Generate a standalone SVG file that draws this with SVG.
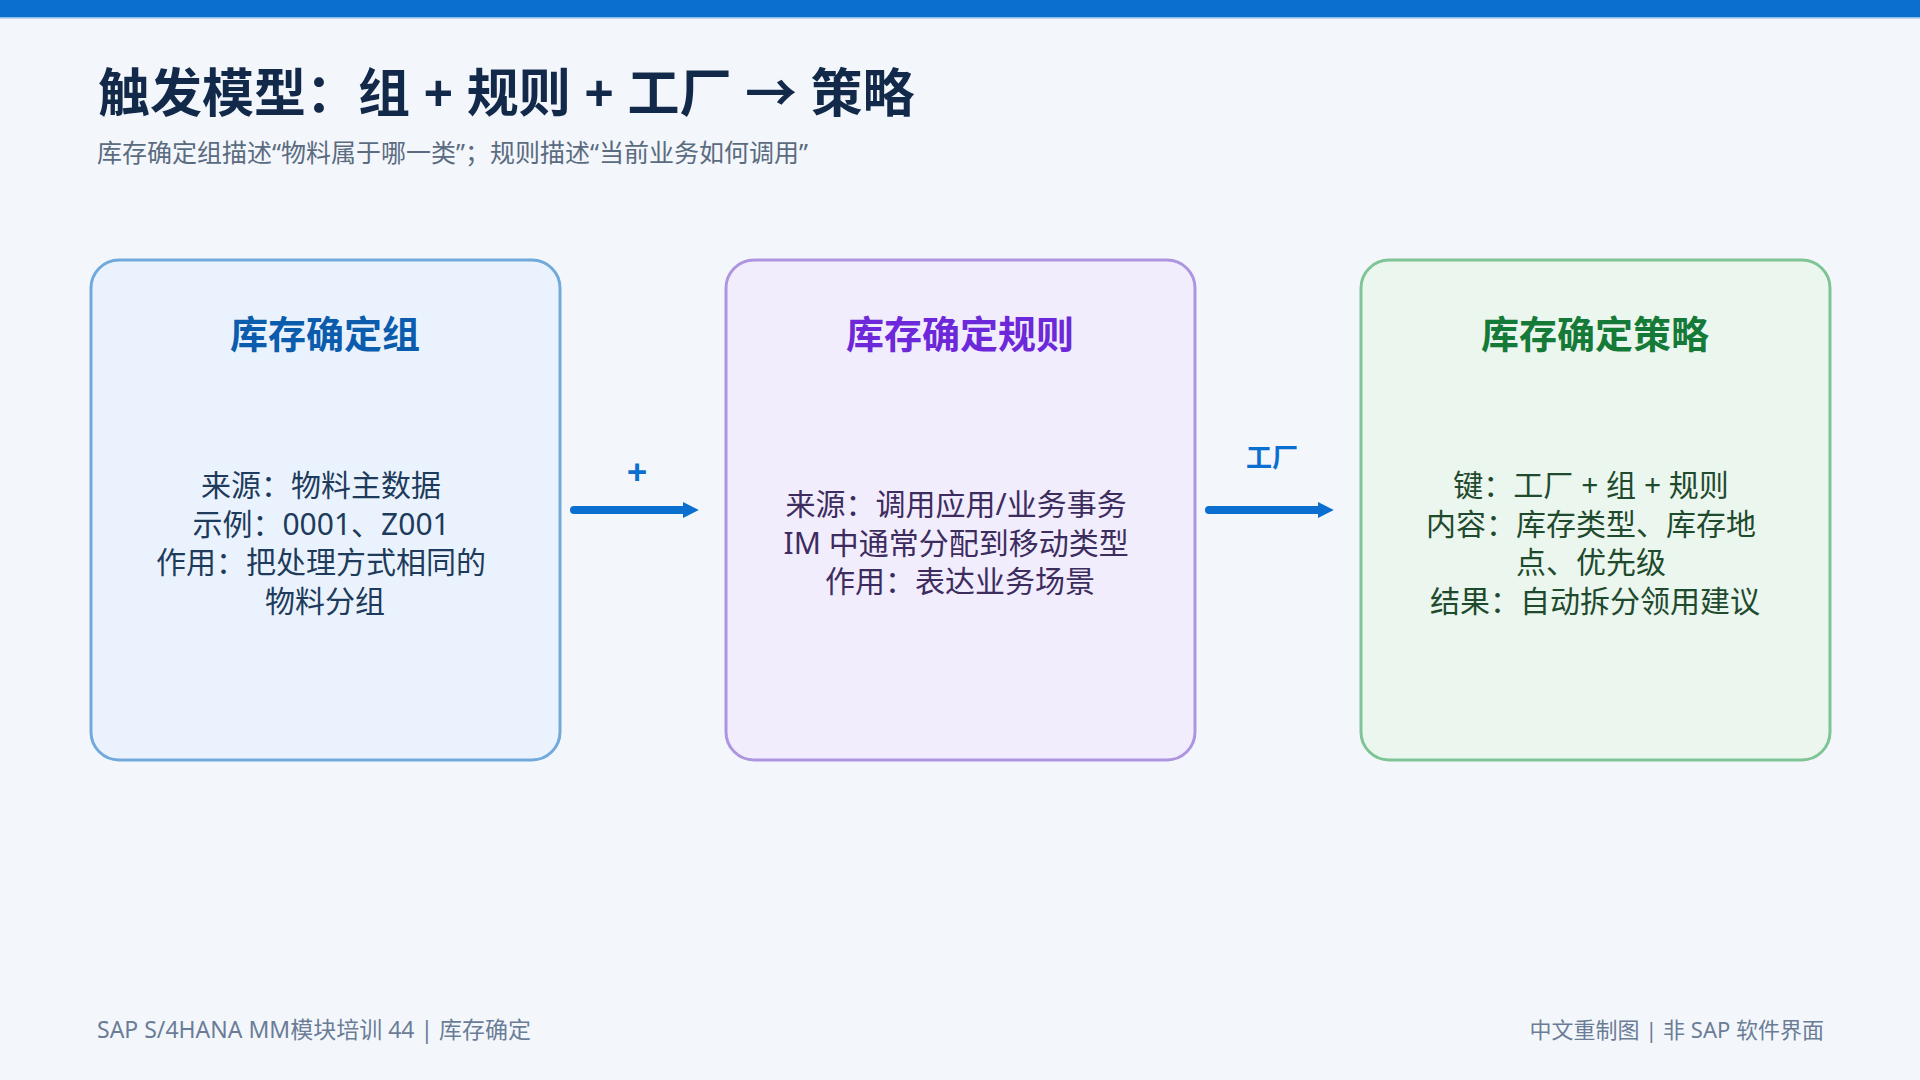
<svg xmlns="http://www.w3.org/2000/svg" width="1920" height="1080" viewBox="0 0 1920 1080">
<defs>
<style>
text{font-family:"Noto Sans","Noto Sans CJK SC",sans-serif;}
.title{font-size:52px;font-weight:700;fill:#13294a;}
.sub{font-size:25px;fill:#5b6b80;}
.foot{fill:#6b7d96;}
.box{stroke-width:3;}
.ntitle{font-size:38px;font-weight:700;text-anchor:middle;}
.body{font-size:30px;text-anchor:middle;}
.conn{stroke:#0b6fd0;stroke-width:8;stroke-linecap:round;fill:none;}
.clabel{fill:#0b6fd0;text-anchor:middle;font-weight:700;}
</style>
<marker id="arr" viewBox="0 0 10 10" refX="2" refY="5" markerWidth="2" markerHeight="2" markerUnits="strokeWidth" orient="auto">
<path d="M0,0 L10,5 L0,10 z" fill="#0b6fd0"/>
</marker>
</defs>
<rect x="0" y="0" width="1920" height="1080" fill="#f3f7fc"/>
<rect x="0" y="0" width="1920" height="17" fill="#0b6fd0"/>
<rect x="0" y="17" width="1920" height="1.5" fill="#8cbbe9"/>

<text class="title" x="98" y="112">触发模型：组 + 规则 + 工厂 → 策略</text>
<text class="sub" x="97" y="162">库存确定组描述“物料属于哪一类”；规则描述“当前业务如何调用”</text>

<g id="node-group">
<rect class="box" x="91" y="260" width="469" height="500" rx="28" fill="#eaf3fd" stroke="#72a9dc"/>
<text class="ntitle" x="325" y="348" fill="#0b5cad">库存确定组</text>
<text class="body" fill="#1f3b5c">
<tspan x="325" y="496">来源：物料主数据</tspan>
<tspan x="325" y="534.5">示例：0001、Z001</tspan>
<tspan x="325" y="573">作用：把处理方式相同的</tspan>
<tspan x="325" y="611.5">物料分组</tspan>
</text>
</g>

<g id="node-rule">
<rect class="box" x="726" y="260" width="469" height="500" rx="28" fill="#f1edfd" stroke="#ae95df"/>
<text class="ntitle" x="960" y="348" fill="#6d28d9">库存确定规则</text>
<text class="body" fill="#3d2c5e">
<tspan x="960" y="515">来源：调用应用/业务事务</tspan>
<tspan x="960" y="553.5">IM 中通常分配到移动类型</tspan>
<tspan x="960" y="592">作用：表达业务场景</tspan>
</text>
</g>

<g id="node-strategy">
<rect class="box" x="1361" y="260" width="469" height="500" rx="28" fill="#eaf6ee" stroke="#7fc495"/>
<text class="ntitle" x="1595" y="348" fill="#157a37">库存确定策略</text>
<text class="body" fill="#1f4a2d">
<tspan x="1595" y="496">键：工厂 + 组 + 规则</tspan>
<tspan x="1595" y="534.5">内容：库存类型、库存地</tspan>
<tspan x="1595" y="573">点、优先级</tspan>
<tspan x="1595" y="611.5">结果：自动拆分领用建议</tspan>
</text>
</g>

<g id="connectors">
<line class="conn" x1="574" y1="510" x2="686" y2="510" marker-end="url(#arr)"/>
<text class="clabel" x="637" y="485" font-size="36">+</text>
<line class="conn" x1="1209" y1="510" x2="1321" y2="510" marker-end="url(#arr)"/>
<text class="clabel" x="1272" y="467" font-size="26">工厂</text>
</g>

<text class="foot" x="97" y="1038" font-size="23">SAP S/4HANA MM模块培训 44 | 库存确定</text>
<text class="foot" x="1824" y="1038" font-size="22" text-anchor="end">中文重制图 | 非 SAP 软件界面</text>
</svg>
